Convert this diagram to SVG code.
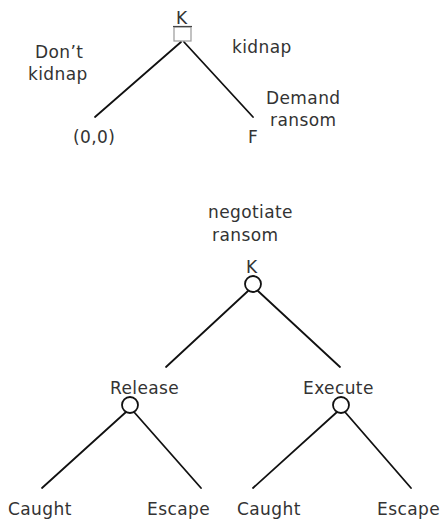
<svg xmlns="http://www.w3.org/2000/svg" width="445" height="521" viewBox="0 0 445 521">
  <style>
    text { font-family: "DejaVu Sans", "Liberation Sans", sans-serif; font-size: 17px; fill: #333; letter-spacing: 0.4px; }
    .edge { stroke: #111; stroke-width: 1.8; fill: none; stroke-linecap: round; }
    .node { stroke: #111; stroke-width: 1.8; fill: #fff; }
  </style>
  <rect width="445" height="521" fill="#fff"/>

  <!-- game-tree branches -->
  <g id="connectors">
    <line class="edge" x1="181" y1="42" x2="95" y2="117"/>
    <line class="edge" x1="184" y1="42" x2="253" y2="117"/>
    <line class="edge" x1="248" y1="291" x2="166" y2="367"/>
    <line class="edge" x1="258" y1="291" x2="340" y2="367"/>
    <line class="edge" x1="126" y1="412" x2="42" y2="488"/>
    <line class="edge" x1="134" y1="412" x2="201" y2="488"/>
    <line class="edge" x1="337" y1="412" x2="253" y2="488"/>
    <line class="edge" x1="345" y1="412" x2="411" y2="488"/>
  </g>

  <!-- upper game: kidnapper decision -->
  <g id="k-root">
    <rect x="174" y="27" width="17" height="14" fill="#fff" stroke="#999" stroke-width="1.2"/>
    <line x1="173" y1="26.5" x2="192" y2="26.5" stroke="#444" stroke-width="1.2"/>
    <text x="176" y="24">K</text>
  </g>
  <g id="label-dont-kidnap">
    <text x="35" y="58">Don’t</text>
    <text x="28" y="80">kidnap</text>
  </g>
  <g id="label-kidnap">
    <text x="232" y="53">kidnap</text>
  </g>
  <g id="label-demand">
    <text x="266" y="104">Demand</text>
    <text x="270" y="126">ransom</text>
  </g>
  <g id="leaf-00"><text x="73" y="143">(0,0)</text></g>
  <g id="leaf-f"><text x="248" y="143">F</text></g>

  <!-- lower game: negotiation subtree -->
  <g id="label-negotiate">
    <text x="208" y="218">negotiate</text>
    <text x="212" y="241">ransom</text>
  </g>
  <g id="k-negotiate">
    <text x="246" y="273">K</text>
    <circle class="node" cx="253" cy="284" r="8"/>
  </g>
  <g id="release">
    <text x="110" y="394">Release</text>
    <circle class="node" cx="130" cy="405" r="8"/>
  </g>
  <g id="execute">
    <text x="303" y="394">Execute</text>
    <circle class="node" cx="341" cy="405" r="8"/>
  </g>
  <g id="leaf-release-caught"><text x="8" y="515">Caught</text></g>
  <g id="leaf-release-escape"><text x="147" y="515">Escape</text></g>
  <g id="leaf-execute-caught"><text x="237" y="515">Caught</text></g>
  <g id="leaf-execute-escape"><text x="377" y="515">Escape</text></g>
</svg>
